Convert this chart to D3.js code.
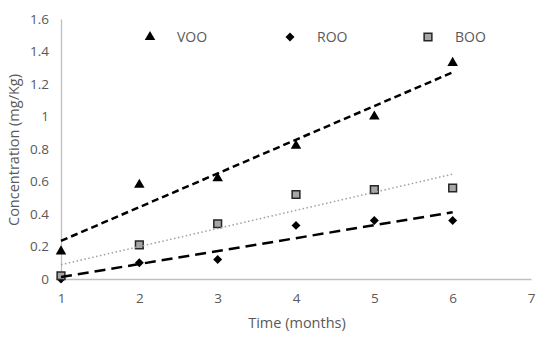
<!DOCTYPE html>
<html>
<head>
    <meta charset="utf-8"/>
    <title>concentration</title>
    <script src="https://d3js.org/d3.v7.min.js"></script>
    <style>
        body { margin: 0; background: #fff; }
        text { font-family: "Open Sans", sans-serif; fill: #595959; }
    </style>
</head>
<body>
    <div id="chart"></div>
    <script>
        // Data
        var months = [1, 2, 3, 4, 5, 6];
        var voo = [0.17, 0.58, 0.62, 0.82, 1.0, 1.33];
        var roo = [0.0, 0.10, 0.12, 0.33, 0.36, 0.36];
        var boo = [0.02, 0.21, 0.34, 0.52, 0.55, 0.56];
        var xTicks = [1, 2, 3, 4, 5, 6, 7];
        var yTicks = [0, 0.2, 0.4, 0.6, 0.8, 1, 1.2, 1.4, 1.6];

        var svg = d3.select("#chart").append("svg")
            .attr("width", 550)
            .attr("height", 341);

        var x = d3.scaleLinear().domain([1, 7]).range([61, 531]);
        var y = d3.scaleLinear().domain([0, 1.6]).range([279, 19]);

        // axes (no tick marks, light gray lines)
        var xAxis = svg.append("g")
            .attr("transform", "translate(0,279)")
            .call(d3.axisBottom(x).tickValues(xTicks).tickSize(0).tickPadding(14).tickFormat(d3.format("d")));
        var yAxis = svg.append("g")
            .attr("transform", "translate(61,0)")
            .call(d3.axisLeft(y).tickValues(yTicks).tickSize(0).tickPadding(12).tickFormat(function(d) { return String(+d.toFixed(1)); }));
        [xAxis, yAxis].forEach(function(a) {
            a.select(".domain").attr("stroke", "#bfbfbf").attr("stroke-width", 1.3);
            a.selectAll("text").style("font-size", "13.5px").style("fill", "#595959");
        });

        svg.append("text")
            .attr("x", 297).attr("y", 328)
            .attr("text-anchor", "middle")
            .style("font-size", "14.5px")
            .text("Time (months)");
        svg.append("text")
            .attr("transform", "translate(19,150) rotate(-90)")
            .attr("text-anchor", "middle")
            .style("font-size", "14.5px")
            .text("Concentration (mg/Kg)");

        // least-squares trendline over the data
        function fit(ys) {
            var mx = d3.mean(months), my = d3.mean(ys);
            var num = d3.sum(months, function(m, i) { return (m - mx) * (ys[i] - my); });
            var den = d3.sum(months, function(m) { return (m - mx) * (m - mx); });
            var b = num / den, a = my - b * mx;
            var x0 = months[0], x1 = months[months.length - 1];
            return [[x0, a + b * x0], [x1, a + b * x1]];
        }

        // diamond = square turned 45 degrees
        var series = [
            { name: "VOO", values: voo, sym: d3.symbolTriangle, size: 48, rot: 0, fill: "#000", stroke: "none",
              dash: "7,4", width: 2.5, color: "#000", lx: 150 },
            { name: "ROO", values: roo, sym: d3.symbolSquare, size: 40, rot: 45, fill: "#000", stroke: "none",
              dash: "11,6", width: 2.5, color: "#000", lx: 290 },
            { name: "BOO", values: boo, sym: d3.symbolSquare, size: 60, rot: 0, fill: "#a6a6a6", stroke: "#262626",
              dash: "1.5,2.5", width: 1.5, color: "#a0a0a0", lx: 428 }
        ];

        var line = d3.line().x(function(d) { return x(d[0]); }).y(function(d) { return y(d[1]); });

        series.forEach(function(s) {
            svg.append("g").selectAll("path")
                .data(s.values)
                .enter().append("path")
                .attr("transform", function(d, i) { return "translate(" + x(months[i]) + "," + y(d) + ") rotate(" + s.rot + ")"; })
                .attr("d", d3.symbol().type(s.sym).size(s.size))
                .attr("fill", s.fill)
                .attr("stroke", s.stroke)
                .attr("stroke-width", 1.5);
        });

        series.forEach(function(s) {
            svg.append("path")
                .datum(fit(s.values))
                .attr("d", line)
                .attr("fill", "none")
                .attr("stroke", s.color)
                .attr("stroke-width", s.width)
                .attr("stroke-dasharray", s.dash);
        });

        // legend
        series.forEach(function(s) {
            svg.append("path")
                .attr("transform", "translate(" + s.lx + ",37) rotate(" + s.rot + ")")
                .attr("d", d3.symbol().type(s.sym).size(s.size))
                .attr("fill", s.fill)
                .attr("stroke", s.stroke)
                .attr("stroke-width", 1.5);
            svg.append("text")
                .attr("x", s.lx + 27).attr("y", 42)
                .style("font-size", "14px")
                .text(s.name);
        });
    </script>
</body>
</html>
